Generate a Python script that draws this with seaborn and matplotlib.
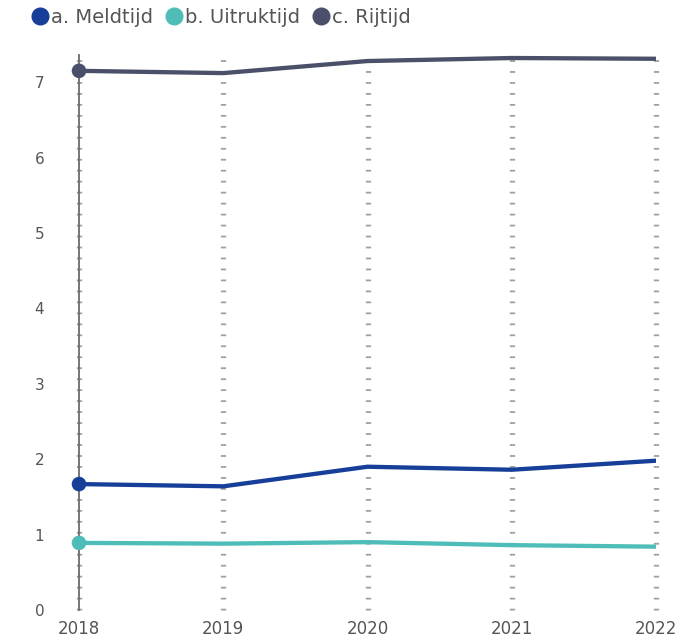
import os
import matplotlib
matplotlib.use("Agg")
import matplotlib.pyplot as plt
from matplotlib import font_manager
from matplotlib.lines import Line2D
import seaborn as sns
import pandas as pd

# Response time components (minutes) per year
years = [2018, 2019, 2020, 2021, 2022]
meldtijd = [1.67, 1.64, 1.90, 1.86, 1.98]
uitruktijd = [0.89, 0.88, 0.90, 0.86, 0.84]
rijtijd = [7.15, 7.12, 7.28, 7.32, 7.31]

series_names = ["a. Meldtijd", "b. Uitruktijd", "c. Rijtijd"]
series_colors = ["#173f9a", "#4fbdb7", "#4a5069"]
y_ticks = [0, 1, 2, 3, 4, 5, 6, 7]

df = pd.DataFrame({
    "jaar": years * 3,
    "minuten": meldtijd + uitruktijd + rijtijd,
    "reeks": [series_names[0]] * 5 + [series_names[1]] * 5 + [series_names[2]] * 5,
})

sns.set_theme(style="white")

# register matplotlib's bundled DejaVu Sans explicitly
ttf_dir = os.path.join(matplotlib.get_data_path(), "fonts", "ttf")
for fname in ["DejaVuSans.ttf", "DejaVuSans-Bold.ttf"]:
    p = os.path.join(ttf_dir, fname)
    if os.path.exists(p):
        font_manager.fontManager.addfont(p)
plt.rcParams["font.family"] = ["DejaVu Sans"]
plt.rcParams["lines.scale_dashes"] = False

fig = plt.figure(figsize=(7.0, 6.41), dpi=100)
ax = fig.add_axes([79 / 700, 31 / 641, (656 - 79) / 700, (610 - 55) / 641])

palette = dict(zip(series_names, series_colors))
sns.lineplot(data=df, x="jaar", y="minuten", hue="reeks", palette=palette,
             linewidth=3.1, legend=False, ax=ax, zorder=3)

# marker on the first year only
first = df[df["jaar"] == years[0]]
sns.scatterplot(data=first, x="jaar", y="minuten", hue="reeks", palette=palette,
                s=110, edgecolor="none", legend=False, ax=ax, zorder=4,
                clip_on=False)

ax.set_xlim(years[0], years[-1])
ax.set_ylim(0, 7.36)
ax.set_xticks(years)
ax.set_xticklabels([str(y) for y in years])
ax.set_yticks(y_ticks)
ax.set_yticklabels([str(t) for t in y_ticks])
ax.set_xlabel("")
ax.set_ylabel("")
ax.grid(False)

# dotted vertical gridlines at each year
for yr in years:
    ax.axvline(yr, color="#a0a0a0", linewidth=3.8, linestyle=(0, (1.3, 6.6)),
               zorder=1, clip_on=False)

for side in ["top", "right", "bottom"]:
    ax.spines[side].set_visible(False)
ax.spines["left"].set_color("#6b6b6b")
ax.spines["left"].set_linewidth(1.3)
ax.spines["left"].set_zorder(2)

ax.tick_params(axis="y", length=0, pad=25, labelsize=11, labelcolor="#555555")
ax.tick_params(axis="x", length=0, pad=7, labelsize=12, labelcolor="#555555")

handles = [Line2D([0], [0], marker="o", linestyle="none", markersize=12,
                  markerfacecolor=c, markeredgecolor=c) for c in series_colors]
fig.legend(handles, series_names, loc="upper left",
           bbox_to_anchor=(22 / 700, 1 + 4 / 641),
           ncol=3, frameon=False, handlelength=0.6, handletextpad=0.3,
           columnspacing=0.75, fontsize=14, labelcolor="#555555",
           borderaxespad=0.2)

fig.savefig("out.png", dpi=100)
